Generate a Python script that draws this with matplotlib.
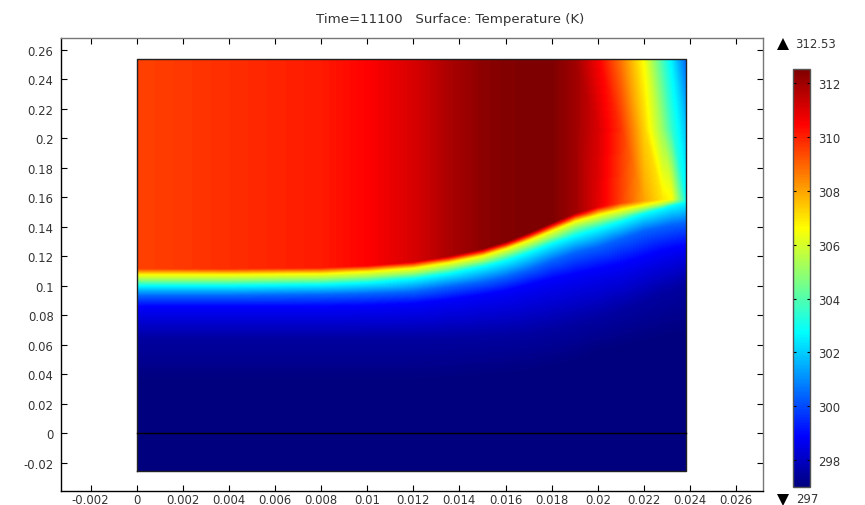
import matplotlib
matplotlib.use("Agg")
import matplotlib.pyplot as plt
import matplotlib.tri as mtri
from matplotlib.colors import LinearSegmentedColormap
from matplotlib.lines import Line2D
import numpy as np

x_ticks = [-0.002, 0, 0.002, 0.004, 0.006, 0.008, 0.01, 0.012, 0.014, 0.016, 0.018, 0.02, 0.022, 0.024, 0.026]
x_labels = ["-0.002", "0", "0.002", "0.004", "0.006", "0.008", "0.01", "0.012", "0.014", "0.016", "0.018", "0.02", "0.022", "0.024", "0.026"]
y_ticks = [-0.02, 0, 0.02, 0.04, 0.06, 0.08, 0.1, 0.12, 0.14, 0.16, 0.18, 0.2, 0.22, 0.24, 0.26]
y_labels = ["-0.02", "0", "0.02", "0.04", "0.06", "0.08", "0.1", "0.12", "0.14", "0.16", "0.18", "0.2", "0.22", "0.24", "0.26"]
cbar_ticks = [298, 300, 302, 304, 306, 308, 310, 312]

# columns where the field was read
x_st = [0, 0.004, 0.008, 0.01, 0.012, 0.0135, 0.015, 0.016, 0.017, 0.018, 0.019, 0.02, 0.021, 0.022, 0.0228, 0.0232, 0.02383]

# heights of the curves going up through the front
y_bot = [-0.0254] * 17
y_297 = [0.0336, 0.0336, 0.0336, 0.0336, 0.0336, 0.0349, 0.0369, 0.0383, 0.0403, 0.0437, 0.0471, 0.0539, 0.0573, 0.0607, 0.0627, 0.0641, 0.0654]
y_2975 = [0.0641, 0.0641, 0.0641, 0.0641, 0.0641, 0.0647, 0.0654, 0.0661, 0.0675, 0.0702, 0.0736, 0.0776, 0.0831, 0.0892, 0.0946, 0.0966, 0.1014]
y_blue = [0.0858, 0.0858, 0.0858, 0.0864, 0.0878, 0.0905, 0.0939, 0.0966, 0.1007, 0.1047, 0.1081, 0.1115, 0.1149, 0.1197, 0.1237, 0.1251, 0.1271]
y_azure = [0.0932, 0.0932, 0.0939, 0.0946, 0.0959, 0.0993, 0.1027, 0.1061, 0.1108, 0.1169, 0.1224, 0.1264, 0.1319, 0.1373, 0.1400, 0.1414, 0.1427]
y_cyan = [0.1000, 0.1000, 0.1007, 0.1020, 0.1047, 0.1081, 0.1129, 0.1169, 0.1224, 0.1285, 0.1339, 0.1386, 0.1434, 0.1488, 0.1522, 0.1542, 0.1569]
y_green = [0.1041, 0.1041, 0.1047, 0.1061, 0.1085, 0.1122, 0.1169, 0.1217, 0.1271, 0.1332, 0.1400, 0.1441, 0.1481, 0.1522, 0.1549, 0.1566, 0.1580]
y_yellow = [0.1075, 0.1075, 0.1081, 0.1095, 0.1119, 0.1156, 0.1203, 0.1251, 0.1308, 0.1373, 0.1437, 0.1481, 0.1517, 0.1549, 0.1576, 0.1590, 0.1586]
y_edge = [0.1115, 0.1115, 0.1122, 0.1136, 0.1163, 0.1200, 0.1251, 0.1298, 0.1359, 0.1427, 0.1492, 0.1536, 0.1563, 0.1576, 0.1586, 0.1593, 0.1593]
y_mid = [0.2064] * 17
y_top = [0.2536] * 17

# temperature along each of those curves
t_bot = [297] * 17
t_297 = [297] * 17
t_2975 = [297.5] * 17
t_blue = [298.86] * 17
t_azure = [300.4] * 17
t_cyan = [302.75] * 17
t_green = [305.1] * 16 + [302.8]
t_yellow = [306.6] * 16 + [302.8]
t_edge = [309.5, 309.8, 310.1, 310.5, 311.1, 311.8, 312.3, 312.45, 312.5, 312.5, 312.0, 310.9, 309.5, 308.0, 307.0, 306.6, 302.8]
t_mid = [309.5, 309.8, 310.1, 310.5, 311.1, 311.8, 312.3, 312.45, 312.5, 312.5, 312.0, 311.1, 309.7, 307.3, 305.0, 303.5, 301.8]
t_top = [309.5, 309.8, 310.1, 310.5, 311.1, 311.8, 312.3, 312.45, 312.5, 312.5, 312.0, 310.6, 308.7, 306.5, 303.75, 302.5, 300.4]

t_min = 297
t_max = 312.53

# the reference colour bar, slightly different from plain jet
cmap = LinearSegmentedColormap.from_list("bar", [(0, (0, 0, 0.5)), (0.12, (0, 0, 1)), (0.37, (0, 1, 1)),
                                                 (0.62, (1, 1, 0)), (0.87, (1, 0, 0)), (1, (0.5, 0, 0))], N=256)

Y = np.array([y_bot, y_297, y_2975, y_blue, y_azure, y_cyan, y_green, y_yellow, y_edge, y_mid, y_top])
T = np.array([t_bot, t_297, t_2975, t_blue, t_azure, t_cyan, t_green, t_yellow, t_edge, t_mid, t_top], dtype=float)
X = np.tile(x_st, (Y.shape[0], 1))

# triangles over the curved grid, then sample it on a pixel grid
nr, nc = Y.shape
tris = []
for r in range(nr - 1):
    for c in range(nc - 1):
        a = r * nc + c
        tris.append([a, a + 1, a + nc])
        tris.append([a + 1, a + nc + 1, a + nc])
tri = mtri.Triangulation(X.ravel(), Y.ravel(), tris)
interp = mtri.LinearTriInterpolator(tri, T.ravel())
gx, gy = np.meshgrid(np.linspace(0, x_st[-1], 550), np.linspace(y_bot[0], y_top[0], 413))
field = np.ma.filled(interp(gx, gy), 297.0)

W, H = 865, 506
fig = plt.figure(figsize=(W / 100, H / 100), dpi=100)
ax = fig.add_axes([60.5 / W, 1 - 492 / H, (763 - 60.5) / W, (492 - 39) / H])
im = ax.imshow(field, origin="lower", extent=[0, x_st[-1], y_bot[0], y_top[0]], cmap=cmap,
               vmin=t_min, vmax=t_max, aspect="auto", interpolation="bilinear")
ax.plot([0, x_st[-1], x_st[-1], 0, 0], [y_bot[0], y_bot[0], y_top[0], y_top[0], y_bot[0]], color="#222222", lw=1)
ax.plot([0, x_st[-1]], [0, 0], color="black", lw=1)
ax.set_xlim(-0.003306, 0.02717)
ax.set_ylim(-0.039, 0.268)
ax.set_xticks(x_ticks)
ax.set_xticklabels(x_labels)
ax.set_yticks(y_ticks)
ax.set_yticklabels(y_labels)
ax.tick_params(direction="in", top=True, right=True, length=4, width=0.8, labelsize=8.4,
               labelcolor="#333333")
ax.tick_params(axis="x", pad=1.5)
ax.tick_params(axis="y", pad=5)
for name in ["top", "right"]:
    ax.spines[name].set_color("#777777")
for name in ax.spines:
    ax.spines[name].set_linewidth(1)
fig.text(450 / W, 1 - 19 / H, "Time=11100   Surface: Temperature (K)", ha="center", va="center",
         fontsize=9.6, color="#333333")

cax = fig.add_axes([792.5 / W, 1 - 488 / H, 17 / W, 418 / H])
cb = fig.colorbar(im, cax=cax)
cb.set_ticks(cbar_ticks)
cax.tick_params(direction="in", left=True, right=True, length=2, width=0.8, labelsize=8.4,
                labelcolor="#333333", pad=6.5)
cb.outline.set_edgecolor("#555555")
cb.outline.set_linewidth(1)

# out of range marks above and below the bar
fig.add_artist(Line2D([783 / W], [1 - 45 / H], marker="^", ms=8, color="black", ls="none", mew=0))
fig.add_artist(Line2D([783 / W], [1 - 500.5 / H], marker="v", ms=8, color="black", ls="none", mew=0))
fig.text(795 / W, 1 - 45 / H, "312.53", ha="left", va="center", fontsize=8.4, color="#333333")
fig.text(796 / W, 1 - 499.5 / H, "297", ha="left", va="center", fontsize=8.4, color="#333333")

fig.savefig("out.png", dpi=100)
